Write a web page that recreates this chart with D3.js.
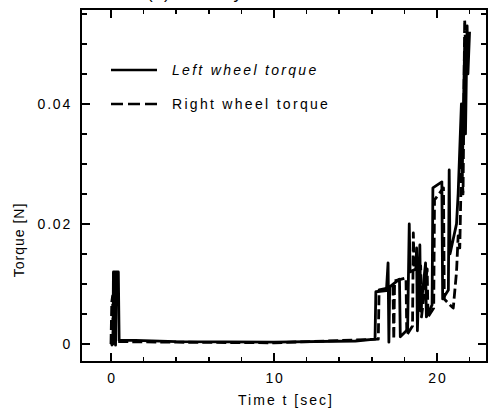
<!DOCTYPE html>
<html>
<head>
<style>
body { margin: 0; background: #fff; }
text { font-family: "Liberation Sans", Arial, sans-serif; fill: #000; }
.tick-label { font-size: 14px; letter-spacing: 1.8px; }
.frame line, .frame rect { stroke: #000; stroke-width: 1.6; shape-rendering: crispEdges; }
.series { fill: none; stroke: #000; stroke-width: 2.8; stroke-linejoin: round; }
</style>
</head>
<body>
<div id="chart"></div>
<script src="https://cdn.jsdelivr.net/npm/d3@7/dist/d3.min.js"></script>
<script>
// values
var leftTime   = [0.0, 0.12, 0.15, 0.25, 0.28, 0.32, 0.45, 0.5, 1.5, 4, 10, 15, 16.2, 16.25, 16.9, 17.0, 17.05, 17.1, 17.7, 17.75, 18.2, 18.3, 18.35, 18.7, 18.75, 18.8, 18.95, 19.0, 19.3, 19.35, 19.7, 19.75, 20.3, 20.35, 20.7, 20.75, 20.8, 21.2, 21.3, 21.5, 21.55, 21.7, 21.75, 21.85, 21.9, 22.0];
var leftTorque = [-0.0003, 0.0, 0.012, 0.012, -0.0002, 0.012, 0.012, 0.0006, 0.0006, 0.0004, 0.0003, 0.0005, 0.0008, 0.0087, 0.0089, 0.0135, 0.0003, 0.0095, 0.0108, 0.0012, 0.0024, 0.020, 0.012, 0.0125, 0.016, 0.0022, 0.0165, 0.0055, 0.0135, 0.0045, 0.0065, 0.026, 0.027, 0.0075, 0.009, 0.029, 0.015, 0.020, 0.025, 0.040, 0.028, 0.050, 0.035, 0.053, 0.045, 0.052];

var rightTime   = [0.0, 0.05, 0.1, 0.15, 0.5, 4, 10, 16.4, 16.45, 17.3, 17.35, 17.4, 18.1, 18.15, 18.5, 18.55, 18.6, 19.0, 19.05, 19.4, 19.45, 19.8, 19.85, 20.4, 20.45, 20.8, 21.0, 21.2, 21.3, 21.4, 21.5, 21.6, 21.7, 21.8, 21.9];
var rightTorque = [0.0, 0.007, 0.008, 0.0005, 0.0004, 0.0003, 0.0002, 0.0008, 0.009, 0.0095, 0.0008, 0.0105, 0.011, 0.0015, 0.003, 0.0185, 0.0125, 0.013, 0.0045, 0.0125, 0.0045, 0.006, 0.024, 0.026, 0.0075, 0.0065, 0.006, 0.012, 0.018, 0.016, 0.030, 0.025, 0.054, 0.045, 0.052];

var xMajor = [0, 10, 20];
var yMajor = [0, 0.02, 0.04];
var yLabels = ["0", "0.02", "0.04"];
var legendNames = ["Left wheel torque", "Right wheel torque"];

(function() {
    var width = 488, height = 411;
    var frame = { left: 81, right: 487, top: 9, bottom: 362 };

    var svg = d3.select("#chart").append("svg")
        .attr("width", width)
        .attr("height", height);

    var x = d3.scaleLinear().domain([-1.84, 23.07]).range([frame.left, frame.right]);
    var y = d3.scaleLinear().domain([-0.003, 0.0558]).range([frame.bottom, frame.top]);

    // title, mostly cut off at the top in the original
    svg.append("text")
        .attr("x", 147)
        .attr("y", -1)
        .style("font-size", "17px")
        .style("letter-spacing", "1px")
        .text("(b) Velocity");

    // data
    var line = d3.line().x(function(d) { return x(d[0]); }).y(function(d) { return y(d[1]); });
    var left = d3.zip(leftTime, leftTorque);
    var right = d3.zip(rightTime, rightTorque);
    svg.append("path").attr("class", "series").attr("d", line(right)).attr("stroke-dasharray", "10,4");
    svg.append("path").attr("class", "series").attr("d", line(left));

    // frame and ticks
    var g = svg.append("g").attr("class", "frame");
    g.append("rect")
        .attr("x", frame.left).attr("y", frame.top)
        .attr("width", frame.right - frame.left)
        .attr("height", frame.bottom - frame.top)
        .attr("fill", "none");

    var xMinor = d3.range(0, 23, 2).filter(function(t) { return xMajor.indexOf(t) < 0; });
    var yMinor = d3.range(0, 0.056, 0.005).filter(function(v) {
        return !yMajor.some(function(m) { return Math.abs(m - v) < 1e-9; });
    });

    function xticks(vals, len) {
        vals.forEach(function(t) {
            g.append("line").attr("x1", x(t)).attr("x2", x(t)).attr("y1", frame.bottom).attr("y2", frame.bottom - len);
            g.append("line").attr("x1", x(t)).attr("x2", x(t)).attr("y1", frame.top).attr("y2", frame.top + len);
        });
    }
    function yticks(vals, len) {
        vals.forEach(function(v) {
            g.append("line").attr("x1", frame.left).attr("x2", frame.left + len).attr("y1", y(v)).attr("y2", y(v));
            g.append("line").attr("x1", frame.right).attr("x2", frame.right - len).attr("y1", y(v)).attr("y2", y(v));
        });
    }
    xticks(xMajor, 9);
    xticks(xMinor, 5);
    yticks(yMajor, 9);
    yticks(yMinor, 6);

    xMajor.forEach(function(t) {
        svg.append("text").attr("class", "tick-label")
            .attr("x", x(t) + 1).attr("y", 383)
            .attr("text-anchor", "middle")
            .text(t);
    });
    yMajor.forEach(function(v, i) {
        svg.append("text").attr("class", "tick-label")
            .attr("x", 72).attr("y", y(v) + 5)
            .attr("text-anchor", "end")
            .text(yLabels[i]);
    });

    svg.append("text")
        .attr("x", 286).attr("y", 405)
        .attr("text-anchor", "middle")
        .style("font-size", "14px")
        .style("letter-spacing", "2px")
        .text("Time t [sec]");
    svg.append("text")
        .attr("transform", "translate(24,240) rotate(-90)")
        .attr("text-anchor", "middle")
        .style("font-size", "14px")
        .style("letter-spacing", "1px")
        .text("Torque [N]");

    // legend
    var legY = [70, 104];
    legendNames.forEach(function(name, i) {
        svg.append("line")
            .attr("x1", 111).attr("x2", 157)
            .attr("y1", legY[i]).attr("y2", legY[i])
            .attr("stroke", "#000").attr("stroke-width", 2.6)
            .attr("stroke-dasharray", i === 1 ? "12,5" : null);
        svg.append("text")
            .attr("x", 172).attr("y", legY[i] + 5)
            .style("font-size", "14px")
            .style("letter-spacing", "2.3px")
            .style("font-style", i === 0 ? "italic" : "normal")
            .text(name);
    });
})();
</script>
</body>
</html>
